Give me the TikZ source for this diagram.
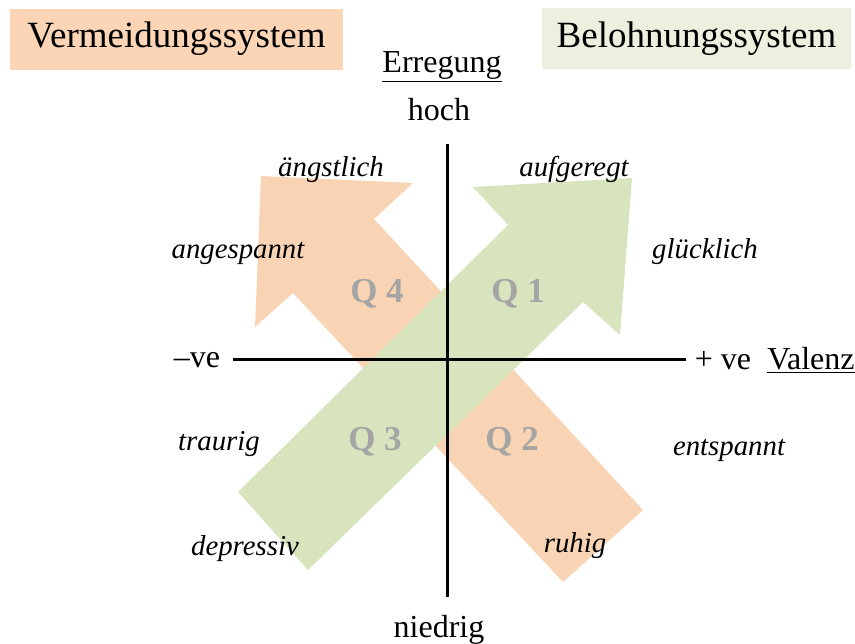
\documentclass[tikz,border=0pt]{standalone}
\usepackage{fontspec}
\setmainfont{Liberation Serif}
\definecolor{avoidfill}{HTML}{F9D4B4}
\definecolor{avoidbox}{HTML}{FBD5B5}
\definecolor{rewardfill}{HTML}{D7E4BD}
\definecolor{rewardbox}{HTML}{EBF1DE}
\definecolor{qgray}{HTML}{A5A5A5}
\tikzset{
  sysbox/.style={inner sep=0pt, minimum height=30.5pt, font=\fontsize{18.5}{22}\selectfont},
  axislabel/.style={anchor=base, inner sep=0pt, font=\fontsize{16}{19}\selectfont},
  mood/.style={anchor=base, inner sep=0pt, font=\fontsize{14.4}{17}\selectfont\itshape},
  quadrant/.style={anchor=base, inner sep=0pt, text=qgray, font=\fontsize{17.5}{21}\selectfont\bfseries},
}
\begin{document}
\begin{tikzpicture}[x=0.5pt, y=-0.5pt]
\useasboundingbox (0,0) rectangle (855,643);

% Avoidance arrow (up left)
\fill[avoidfill] (261,176) -- (413,183) -- (374,219) -- (643,510) -- (563,582)
  -- (293,293) -- (255,327) -- cycle;

% Reward arrow (up right)
\fill[rewardfill] (632,178) -- (473,187) -- (508,225) -- (238,492) -- (308,570)
  -- (583,302) -- (620,335) -- cycle;

% Axes
\coordinate (ytop) at (447,144);
\coordinate (ybot) at (447,597);
\coordinate (xleft) at (233,359);
\coordinate (xright) at (686,359);
\draw[line width=1.5pt] (ytop) -- (ybot);
\draw[line width=1.5pt] (xleft) -- (xright);

% System labels
\node[sysbox, fill=avoidbox, minimum width=166.5pt] (avoid) at (176.5,39) {Vermeidungssystem};
\node[sysbox, fill=rewardbox, minimum width=154.5pt] (reward) at (696.5,38.5) {Belohnungssystem};

% Axis labels
\node[axislabel] (arousal) at (442,72) {\underline{Erregung}};
\node[axislabel] (high) at (439,120) {hoch};
\node[axislabel] (low) at (439,637) {niedrig};
\node[axislabel] (neg) at (197,367) {--ve};
\node[axislabel] (pos) at (723,369) {+ ve};
\node[axislabel] (valence) at (811,369) {\underline{Valenz}};

% Moods
\node[mood] (anxious) at (331,176) {ängstlich};
\node[mood] (excited) at (574,176) {aufgeregt};
\node[mood] (tense) at (238,258) {angespannt};
\node[mood] (happy) at (705,258) {glücklich};
\node[mood] (sad) at (219,450) {traurig};
\node[mood] (relaxed) at (729,455) {entspannt};
\node[mood] (depressed) at (245,555) {depressiv};
\node[mood] (calm) at (575,552) {ruhig};

% Quadrants
\node[quadrant] (q4) at (377,302) {Q 4};
\node[quadrant] (q1) at (518,302) {Q 1};
\node[quadrant] (q3) at (375,450) {Q 3};
\node[quadrant] (q2) at (512,450) {Q 2};
\end{tikzpicture}
\end{document}
